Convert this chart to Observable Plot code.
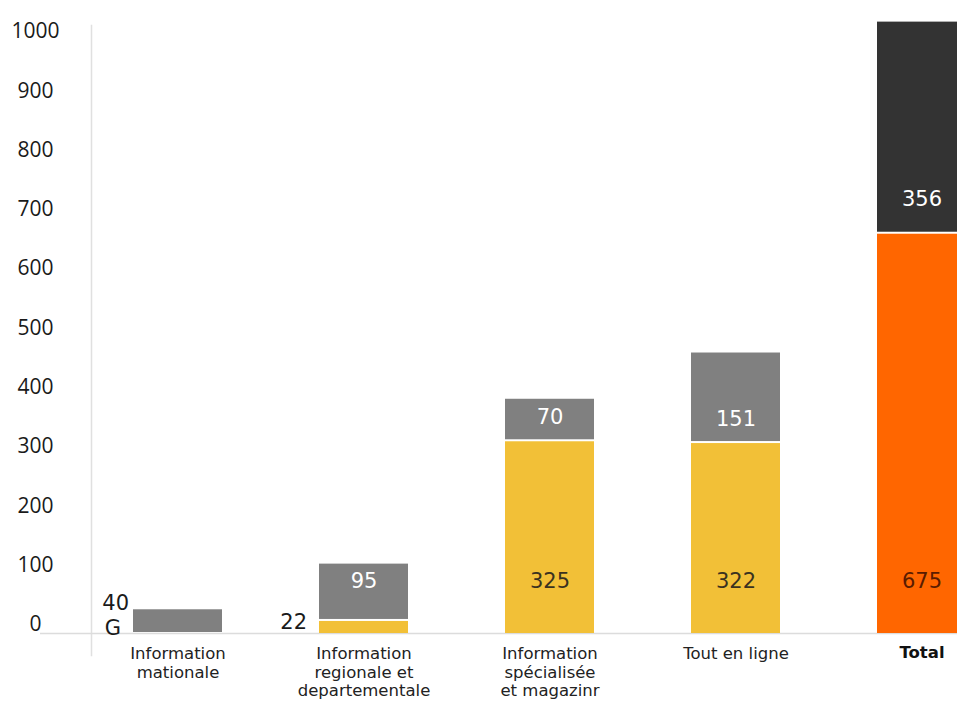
<!DOCTYPE html>
<html><head><meta charset="utf-8">
<script src="https://cdn.jsdelivr.net/npm/d3@7"></script>
<script src="https://cdn.jsdelivr.net/npm/@observablehq/plot@0.6"></script>
<style>body{margin:0;background:#fff;overflow:hidden}</style>
</head><body><div id="chart"></div>
<script>
const categories = [
  "Information\nmationale",
  "Information\nregionale et\ndepartementale",
  "Information\nspécialisée\net magazinr",
  "Tout en ligne",
  "Total"
];
const lowerValues = [0, 22, 325, 322, 675];
const upperValues = [40, 95, 70, 151, 356];
const lowerLabels = ["G", "22", "325", "322", "675"];
const upperLabels = ["40", "95", "70", "151", "356"];
const yTicks = [0, 100, 200, 300, 400, 500, 600, 700, 800, 900, 1000];

const YELLOW = "#F2C037", GRAY = "#808080", ORANGE = "#FF6600", DARK = "#333333";

const rows = categories.flatMap((c, i) => [
  {cat: c, seg: "lower", y1: 0, y2: lowerValues[i], value: lowerValues[i], label: lowerLabels[i]},
  {cat: c, seg: "upper", y1: lowerValues[i], y2: lowerValues[i] + upperValues[i], value: upperValues[i], label: upperLabels[i]}
]);
const lower = rows.filter(d => d.seg === "lower");
const upper = rows.filter(d => d.seg === "upper");
const isTotal = d => d.cat === "Total";

const font = "DejaVu Sans";

const chart = Plot.plot({
  width: 957,
  height: 706,
  marginLeft: 91,
  marginRight: 0,
  marginTop: 25,
  marginBottom: 51,
  style: {fontFamily: font, background: "#fff"},
  x: {type: "band", domain: categories, range: [131.5, 966.5], paddingInner: 0.5228, paddingOuter: 0, align: 0.5, axis: null},
  y: {domain: [0, 1000], range: [633, 40], axis: null},
  marks: [
    Plot.frame({anchor: "left", stroke: "#e0e0e0", strokeWidth: 1.5}),
    Plot.ruleY([0], {stroke: "#dcdcdc", strokeWidth: 1.5, insetLeft: -51}),
    Plot.axisY({ticks: yTicks, tickFormat: d => String(d), tickSize: 0, tickPadding: 0, dx: -56, dy: -9, textAnchor: "middle",
      fontSize: 21, fontFamily: "Open Sans", fill: "#1a1a1a"}),
    Plot.barY(lower, {x: "cat", y1: "y1", y2: "y2", insetTop: 1,
      fill: d => isTotal(d) ? ORANGE : YELLOW}),
    Plot.barY(upper, {x: "cat", y1: "y1", y2: "y2", insetBottom: 1,
      fill: d => isTotal(d) ? DARK : GRAY}),
    // inside labels, lower segments
    Plot.text(lower.filter(d => d.value >= 100), {x: "cat", y: d => 0, dy: -52, text: "label",
      fontSize: 21, fill: d => isTotal(d) ? "#5a1c00" : "#3a3220"}),
    // inside labels, upper segments
    Plot.text(upper.filter(d => d.value >= 50), {x: "cat", y: d => Math.max(d.y1 + 40 + (d.value > 300 ? 18 : 0), 88), text: "label",
      fontSize: 21, fill: "#ffffff"}),
    // outside labels (small values), left of bar
    Plot.text(lower.filter(d => d.value < 100), {x: "cat", y: d => d.y2 / 2, dy: -5, dx: -57, textAnchor: "end",
      text: "label", fontSize: 21, fill: "#1a1a1a"}),
    Plot.text(upper.filter(d => d.value < 50), {x: "cat", y: "y2", dy: -7, dx: -49, textAnchor: "end",
      text: "label", fontSize: 21, fill: "#1a1a1a"}),
    // category labels
    Plot.text(categories.filter(c => c !== "Total"), {x: d => d, y: d => 0, dy: 13, lineAnchor: "top",
      lineHeight: 1.1, fontSize: 16.5, fill: "#222"}),
    Plot.text(categories.filter(c => c === "Total"), {x: d => d, y: d => 0, dy: 13, lineAnchor: "top",
      fontSize: 16.5, fontWeight: "bold", fill: "#111"})
  ]
});
document.getElementById("chart").appendChild(chart);
</script>
</body></html>
